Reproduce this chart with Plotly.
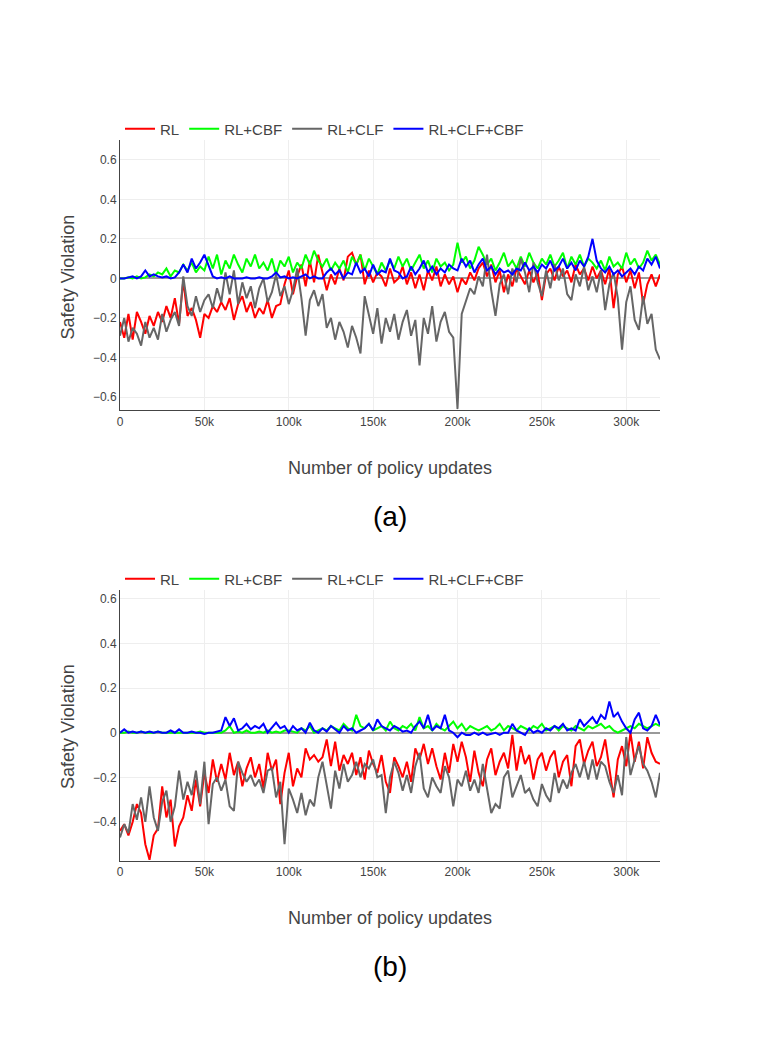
import plotly.graph_objects as go

# policy updates, one point every 2.5k
steps = [i * 2500 for i in range(129)]

# (a) safety violation per method
rl_a = [-0.22, -0.30, -0.18, -0.31, -0.17, -0.22, -0.28, -0.19,
        -0.24, -0.17, -0.22, -0.14, -0.20, -0.10, -0.23, -0.01,
        -0.19, -0.15, -0.21, -0.30, -0.18, -0.20, -0.14, -0.17,
        -0.12, -0.16, -0.10, -0.21, -0.13, -0.09, -0.17, -0.12,
        -0.20, -0.15, -0.18, -0.11, -0.20, -0.14, -0.13, -0.03,
        0.04, -0.08, 0.01, 0.07, -0.04, 0.09, -0.02, 0.12,
        0.03, -0.06, 0.02, -0.03, 0.05, -0.01, 0.11, 0.13,
        0.07, 0.12, -0.03, 0.04, -0.02, 0.03, 0.01, -0.04,
        0.05, -0.02, 0.00, 0.06, -0.03, 0.03, -0.05, 0.02,
        -0.06, 0.04, -0.01, 0.06, -0.04, 0.02, -0.03, 0.01,
        -0.07, 0.00, -0.03, 0.03, -0.01, 0.05, 0.08, 0.01,
        0.07, -0.02, 0.04, -0.07, 0.02, -0.04, 0.05, 0.01,
        -0.03, 0.04, -0.02, 0.03, -0.11, 0.02, 0.05, -0.01,
        0.06, 0.01, 0.04, -0.02, 0.07, 0.02, 0.05, -0.01,
        0.06, 0.00, 0.04, -0.03, 0.05, -0.15, 0.02, 0.06,
        -0.02, 0.04, -0.05, 0.03, -0.13, -0.03, 0.02, -0.04,
        0.02]
cbf_a = [0.0, 0.0, 0.005, 0.0, 0.01, 0.0, 0.005, 0.02,
         0.01, 0.03, 0.02, 0.05, 0.01, 0.04, 0.03, 0.07,
         0.04, 0.08, 0.03, 0.06, 0.04, 0.11, 0.05, 0.12,
         0.02, 0.09, 0.05, 0.12, 0.07, 0.03, 0.10, 0.06,
         0.12, 0.05, 0.08, 0.04, 0.10, 0.02, 0.09, 0.06,
         0.11, 0.03, 0.08, 0.05, 0.12, 0.07, 0.14, 0.09,
         0.06, 0.10, 0.04, 0.08, 0.05, 0.09, 0.03, 0.11,
         0.07, 0.12, 0.04, 0.10, 0.06, 0.02, 0.08, 0.04,
         0.09, 0.05, 0.11, 0.06, 0.10, 0.04, 0.08, 0.12,
         0.05, 0.09, 0.03, 0.10, 0.06, 0.08, 0.04, 0.07,
         0.18, 0.08, 0.11, 0.05, 0.09, 0.16, 0.12, 0.07,
         0.10, 0.04, 0.08, 0.13, 0.06, 0.09, 0.05, 0.11,
         0.06, 0.13, 0.08, 0.05, 0.10, 0.07, 0.12, 0.06,
         0.09, 0.13, 0.05, 0.11, 0.07, 0.12, 0.06, 0.10,
         0.08, 0.05, 0.09, 0.04, 0.11, 0.06, 0.08, 0.05,
         0.13, 0.07, 0.10, 0.05, 0.08, 0.14, 0.09, 0.12,
         0.07]
clf_a = [-0.29, -0.20, -0.32, -0.25, -0.28, -0.34, -0.22, -0.30,
         -0.25, -0.31, -0.18, -0.27, -0.21, -0.17, -0.24, 0.01,
         -0.14, -0.19, -0.09, -0.17, -0.11, -0.08, -0.15, -0.05,
         -0.12, 0.03, -0.08, 0.04, -0.13, -0.02, -0.10, -0.04,
         -0.15, -0.05, 0.00, -0.12, -0.07, 0.02, -0.09, -0.04,
         -0.13, -0.06, 0.05, -0.10, -0.29, -0.11, -0.06, -0.14,
         -0.08, -0.25, -0.20, -0.31, -0.22, -0.27, -0.35, -0.24,
         -0.30, -0.38, -0.09, -0.18, -0.28, -0.15, -0.33, -0.20,
         -0.27, -0.18, -0.31, -0.22, -0.16, -0.29, -0.21, -0.44,
         -0.20, -0.28, -0.14, -0.32, -0.22, -0.17, -0.27, -0.30,
         -0.66, -0.18, -0.12, -0.05, -0.08, 0.01, -0.04, 0.12,
         -0.06, -0.19, -0.03, 0.02, -0.08, 0.05, -0.02, 0.10,
         0.03, -0.07, 0.08, -0.02, -0.09, 0.04, -0.05, 0.07,
         -0.01, 0.05, -0.08, -0.11, 0.02, -0.04, 0.06, -0.06,
         0.01, -0.07, 0.04, -0.16, -0.03, 0.03, -0.10, -0.36,
         -0.12, -0.04, -0.21, -0.26, -0.09, -0.23, -0.18, -0.36,
         -0.41]
full_a = [0.0, 0.0, 0.005, 0.01, 0.0, 0.01, 0.04, 0.01,
          0.02, 0.01, 0.005, 0.01, 0.0, 0.005, 0.03, 0.07,
          0.03, 0.10, 0.05, 0.08, 0.12, 0.06, 0.01, 0.0,
          0.005, 0.0, 0.01, 0.0, 0.0, 0.0, 0.005, 0.0,
          0.0, 0.005, 0.0, 0.0, 0.01, 0.03, 0.005, 0.01,
          0.0, 0.005, 0.0, 0.01, 0.02, 0.0, 0.01, 0.0,
          0.0, 0.03, 0.05, 0.02, 0.04, 0.0, 0.03, 0.02,
          0.08, 0.03, 0.05, 0.01, 0.07, 0.02, 0.04, 0.03,
          0.10, 0.04, 0.03, 0.0, 0.01, 0.06, 0.02, 0.05,
          0.09, 0.03, 0.06, 0.02, 0.05, 0.03, 0.07, 0.05,
          0.04, 0.10, 0.06, 0.09, 0.03, 0.07, 0.10, 0.04,
          0.06, 0.02, 0.05, 0.03, 0.04, 0.02, 0.05, 0.04,
          0.08, 0.04, 0.06, 0.03, 0.07, 0.05, 0.09, 0.04,
          0.06, 0.10, 0.05, 0.08, 0.04, 0.09, 0.06, 0.11,
          0.20, 0.09, 0.05, 0.03, 0.06, 0.02, 0.04, 0.01,
          0.03, 0.05, 0.02, 0.06, 0.04, 0.10, 0.07, 0.11,
          0.05]

# (b)
rl_b = [-0.44, -0.41, -0.46, -0.40, -0.32, -0.36, -0.50, -0.57,
        -0.46, -0.43, -0.24, -0.38, -0.30, -0.51, -0.42, -0.38,
        -0.28, -0.35, -0.21, -0.33, -0.18, -0.27, -0.12, -0.22,
        -0.14, -0.21, -0.09, -0.19, -0.13, -0.24, -0.16, -0.11,
        -0.20, -0.14, -0.25, -0.09, -0.17, -0.12, -0.32, -0.18,
        -0.09, -0.24, -0.16, -0.20, -0.07, -0.12, -0.10, -0.13,
        -0.11, -0.03, -0.15, -0.04, -0.17, -0.10, -0.14, -0.09,
        -0.19, -0.11, -0.21, -0.08, -0.14, -0.18, -0.10, -0.22,
        -0.27, -0.11, -0.15, -0.20, -0.13, -0.22, -0.07, -0.12,
        -0.05, -0.14, -0.07, -0.15, -0.21, -0.09, -0.18, -0.05,
        -0.13, -0.04, -0.11, -0.22, -0.08, -0.18, -0.24, -0.12,
        -0.07, -0.19, -0.13, -0.09, -0.16, -0.01, -0.17, -0.06,
        -0.14, -0.10, -0.21, -0.12, -0.09, -0.17, -0.11, -0.08,
        -0.20, -0.13, -0.10, -0.24, -0.06, -0.03, -0.14, -0.08,
        -0.04, -0.15, -0.11, -0.03, -0.16, -0.29, -0.12, -0.06,
        -0.15, 0.00, -0.13, -0.04, -0.16, -0.02, -0.09, -0.13,
        -0.14]
cbf_b = [0.0, 0.0, 0.005, 0.0, 0.0, 0.005, 0.0, 0.0,
         0.0, 0.005, 0.0, 0.0, 0.0, 0.0, 0.0, 0.0,
         0.0, 0.0, 0.0, 0.005, 0.0, 0.0, 0.0, 0.0,
         0.0, 0.01, 0.03, 0.0, 0.005, 0.0, 0.01, 0.0,
         0.0, 0.005, 0.0, 0.01, 0.0, 0.005, 0.0, 0.01,
         0.01, 0.005, 0.0, 0.02, 0.01, 0.03, 0.0, 0.01,
         0.02, 0.01, 0.03, 0.02, 0.01, 0.04, 0.02, 0.01,
         0.08, 0.03, 0.02, 0.04, 0.01, 0.02, 0.03, 0.01,
         0.05, 0.02, 0.01, 0.03, 0.02, 0.04, 0.01, 0.07,
         0.02, 0.03, 0.01, 0.04, 0.02, 0.01, 0.03, 0.05,
         0.02, 0.04, 0.01, 0.03, 0.02, 0.01, 0.02, 0.03,
         0.01, 0.02, 0.04, 0.01, 0.03, 0.02, 0.01, 0.03,
         0.02, 0.01, 0.03, 0.02, 0.04, 0.01, 0.02, 0.03,
         0.01, 0.03, 0.02, 0.01, 0.03, 0.02, 0.01, 0.03,
         0.02, 0.03, 0.04, 0.02, 0.03, 0.01, 0.0, 0.01,
         0.02, 0.03, 0.02, 0.04, 0.03, 0.02, 0.03, 0.04,
         0.03]
clf_b = [-0.47, -0.41, -0.45, -0.32, -0.39, -0.29, -0.40, -0.24,
         -0.38, -0.44, -0.31, -0.26, -0.40, -0.33, -0.17, -0.30,
         -0.22, -0.28, -0.17, -0.32, -0.13, -0.41, -0.23, -0.20,
         -0.26, -0.21, -0.33, -0.35, -0.13, -0.18, -0.22, -0.19,
         -0.24, -0.21, -0.27, -0.17, -0.16, -0.29, -0.22, -0.50,
         -0.25, -0.30, -0.36, -0.27, -0.37, -0.30, -0.33, -0.20,
         -0.13, -0.23, -0.34, -0.17, -0.25, -0.14, -0.22, -0.19,
         -0.13, -0.20, -0.14, -0.16, -0.12, -0.20, -0.19, -0.36,
         -0.20, -0.13, -0.18, -0.26, -0.19, -0.27, -0.15, -0.09,
         -0.25, -0.29, -0.20, -0.24, -0.27, -0.15, -0.20, -0.33,
         -0.21, -0.24, -0.17, -0.26, -0.21, -0.27, -0.14, -0.25,
         -0.36, -0.32, -0.34, -0.20, -0.17, -0.29, -0.24, -0.19,
         -0.27, -0.25, -0.30, -0.33, -0.23, -0.28, -0.31, -0.18,
         -0.27, -0.21, -0.25, -0.18, -0.14, -0.20, -0.13, -0.21,
         -0.12, -0.21, -0.13, -0.15, -0.22, -0.27, -0.19, -0.28,
         -0.02, -0.19, -0.12, -0.06, -0.14, -0.17, -0.22, -0.29,
         -0.18]
full_b = [0.0, 0.015, 0.0, 0.005, 0.0, 0.005, 0.0, 0.005,
          0.0, 0.005, 0.0, 0.0, 0.01, 0.0, 0.015, 0.0,
          0.0, 0.005, 0.0, 0.0, -0.005, 0.0, 0.0, 0.005,
          0.01, 0.07, 0.03, 0.065, 0.01, 0.02, 0.04, 0.015,
          0.03, 0.02, 0.04, 0.0, 0.025, 0.045, 0.02, 0.03,
          0.0, 0.03, 0.01, 0.02, 0.0, 0.045, 0.01, 0.0,
          0.02, 0.005, 0.03, 0.015, 0.0, 0.03, 0.01, 0.02,
          0.0, 0.01, 0.02, 0.04, 0.01, 0.06, 0.03, 0.02,
          0.01, 0.03, 0.02, 0.005, 0.01, 0.0, 0.03, 0.05,
          0.02, 0.08, 0.01, 0.03, 0.02, 0.08, 0.01, 0.0,
          -0.02, 0.0, -0.01, -0.01, 0.0, -0.01, 0.0, -0.01,
          -0.005, 0.0, -0.01, 0.0, 0.0, 0.04, 0.01, 0.0,
          -0.01, 0.02, 0.0, 0.01, 0.0, 0.02, 0.01, 0.03,
          0.02, 0.04, 0.01, 0.02, 0.01, 0.06, 0.03, 0.05,
          0.07, 0.04, 0.08, 0.06, 0.14, 0.07, 0.09, 0.05,
          0.02, 0.0, 0.06, 0.09, 0.02, 0.01, 0.03, 0.08,
          0.035]

names = ["RL", "RL+CBF", "RL+CLF", "RL+CLF+CBF"]
colors = ["#ff0000", "#00ff00", "#666666", "#0000ff"]

FONT = "Liberation Sans, Arial, sans-serif"

fig = go.Figure()

panels = [([rl_a, cbf_a, clf_a, full_a], "x", "y", "legend"),
          ([rl_b, cbf_b, clf_b, full_b], "x2", "y2", "legend2")]
for series, xa, ya, leg in panels:
    for name, color, vals in zip(names, colors, series):
        fig.add_trace(go.Scatter(x=steps, y=vals, mode="lines", name=name,
                                 line=dict(color=color, width=2),
                                 xaxis=xa, yaxis=ya, legend=leg))

xstyle = dict(range=[0, 320000], dtick=50000, showgrid=True, gridcolor="#eeeeee",
              showline=True, linecolor="#444444", linewidth=1, zeroline=False,
              tickfont=dict(size=12, color="#444444"), ticks="")
ystyle = dict(dtick=0.2, showgrid=True, gridcolor="#eeeeee",
              showline=True, linecolor="#444444", linewidth=1,
              zeroline=True, zerolinecolor="#999999", zerolinewidth=2,
              tickfont=dict(size=12, color="#444444"), ticks="")

legstyle = dict(orientation="h", x=0, xanchor="left", yanchor="middle",
                font=dict(size=15, color="#444444"), bgcolor="rgba(0,0,0,0)")

# page body adds 8px, so margins are shifted by that much
fig.update_layout(
    width=780, height=1040,
    margin=dict(l=112, r=128, t=92, b=108),
    paper_bgcolor="white", plot_bgcolor="white",
    font=dict(family=FONT, color="#444444"),
    xaxis=dict(domain=[0, 1], anchor="y", **xstyle),
    yaxis=dict(domain=[0.6304, 0.9524], anchor="x", range=[-0.668, 0.70], **ystyle),
    xaxis2=dict(domain=[0, 1], anchor="y2", **xstyle),
    yaxis2=dict(domain=[0.0946, 0.4167], anchor="x2", range=[-0.573, 0.64], **ystyle),
    legend=dict(y=0.9655, **legstyle),
    legend2=dict(y=0.4298, **legstyle),
    showlegend=True,
)

titles = [("Safety Violation", -0.0963, 0.790, 18, "#444444", -90),
          ("Safety Violation", -0.0963, 0.2548, 18, "#444444", -90),
          ("Number of policy updates", 0.5, 0.5619, 18, "#444444", 0),
          ("Number of policy updates", 0.5, 0.0262, 18, "#444444", 0),
          ("(a)", 0.5, 0.5036, 28, "#000000", 0),
          ("(b)", 0.5, -0.032, 28, "#000000", 0)]
for text, ax, ay, size, color, angle in titles:
    fig.add_annotation(text=text, x=ax, y=ay, xref="paper", yref="paper",
                       xanchor="center", yanchor="middle", showarrow=False,
                       textangle=angle, font=dict(size=size, color=color))

fig.write_html("out.html")
